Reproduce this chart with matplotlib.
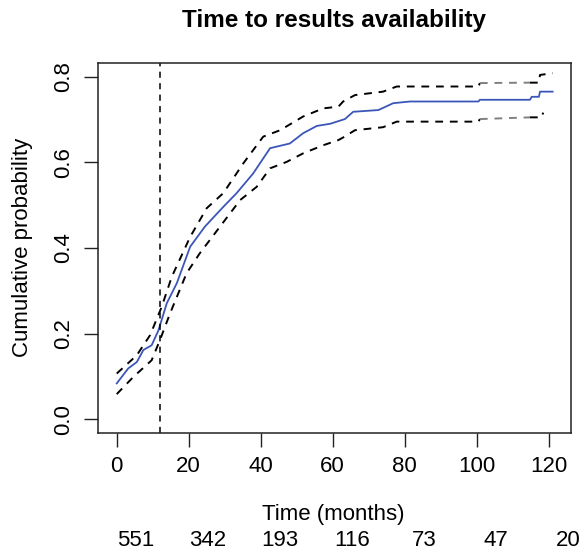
import matplotlib
matplotlib.use("Agg")
import matplotlib.pyplot as plt
import numpy as np

plt.rcParams['font.family'] = ['Liberation Sans', 'DejaVu Sans']

# cumulative incidence
time_est = [0, 3.2, 5.6, 7.4, 9.7, 11.6, 13.9, 16.7, 20.4, 24.5, 29.6, 33.3, 37.9, 42.6,
            48.1, 51.8, 55.6, 59.3, 63.4, 65.7, 72.7, 76.8, 81.5, 100.5, 100.9, 114.8,
            115.3, 117.3, 117.6, 121.1]
est = [0.084, 0.119, 0.134, 0.162, 0.173, 0.208, 0.271, 0.318, 0.403, 0.450, 0.496, 0.528,
       0.574, 0.633, 0.644, 0.668, 0.685, 0.690, 0.701, 0.718, 0.722, 0.738, 0.742, 0.742,
       0.746, 0.746, 0.753, 0.753, 0.765, 0.765]

time_up = [0, 5.6, 9.3, 12.5, 15.3, 20.4, 25, 29.6, 35.2, 40.7, 45.4, 51.8, 57.4, 61.6,
           62.9, 66.2, 74, 77.8, 100.5, 100.9, 114.8, 117.3, 117.6, 121.1]
upper = [0.107, 0.150, 0.197, 0.263, 0.333, 0.426, 0.493, 0.528, 0.598, 0.660, 0.675,
         0.707, 0.726, 0.730, 0.742, 0.757, 0.765, 0.777, 0.777, 0.785, 0.786, 0.786,
         0.804, 0.808]

time_lo = [0, 4.6, 9.7, 12, 14.8, 19.4, 23.1, 28.7, 34.3, 38.9, 42.6, 47.2, 51.8, 57.4,
           61.6, 62.9, 66.2, 74, 77.8, 100.5, 100.9, 114.8, 118.0, 118.5]
lower = [0.059, 0.099, 0.138, 0.185, 0.247, 0.341, 0.388, 0.450, 0.512, 0.543, 0.586,
         0.601, 0.621, 0.640, 0.652, 0.658, 0.675, 0.682, 0.695, 0.695, 0.701, 0.705,
         0.705, 0.716]

landmark = 12
xticks = [0, 20, 40, 60, 80, 100, 120]
yticks = [0.0, 0.2, 0.4, 0.6, 0.8]
n_risk = [551, 342, 193, 116, 73, 47, 20]

fig = plt.figure(figsize=(5.81, 5.56), dpi=100)
ax = fig.add_axes([0.1687, 0.2218, 0.814, 0.665])

dash = (0, (4, 3.5))


def draw_ci(t, v):
    # part between 100 and 115 looks grey in the original
    t = np.array(t)
    v = np.array(v)
    a = t <= 100.9
    b = (t >= 100.9) & (t <= 114.8)
    c = t >= 114.8
    ax.plot(t[a], v[a], color='black', lw=1.4, linestyle=dash)
    ax.plot(t[b], v[b], color='#808080', lw=1.4, linestyle=dash)
    ax.plot(t[c], v[c], color='black', lw=1.4, linestyle=dash)


draw_ci(time_up, upper)
draw_ci(time_lo, lower)
ax.plot(time_est, est, color='#3b56b8', lw=1.3)
ax.axvline(landmark, color='black', lw=1.1, linestyle=dash)

ax.set_xlim(-5.2, 126.2)
ax.set_ylim(-0.031, 0.832)
ax.set_xticks(xticks)
ax.set_yticks(yticks)
ax.set_xticklabels([str(x) for x in xticks], fontsize=16)
ax.set_yticklabels(['0.0', '0.2', '0.4', '0.6', '0.8'], fontsize=16, rotation=90, va='center')
ax.tick_params(length=10, width=1.0, pad=7, color='#222222')
for s in ax.spines.values():
    s.set_linewidth(1.1)
    s.set_color('#222222')

ax.set_ylabel('Cumulative probability', fontsize=16, labelpad=15)
ax.set_title('Time to results availability', fontsize=17.5, fontweight='bold', pad=26)

fig.text(0.573, 0.075, 'Time (months)', fontsize=16, ha='center', va='center')
for x, n in zip(xticks, n_risk):
    ax.annotate(str(n), xy=(x, 0), xycoords=('data', 'figure fraction'),
                xytext=(14, 0.027 * 556 * 0.72), textcoords='offset points',
                fontsize=16, ha='center', va='center', annotation_clip=False)

fig.savefig('out.png', dpi=100)
